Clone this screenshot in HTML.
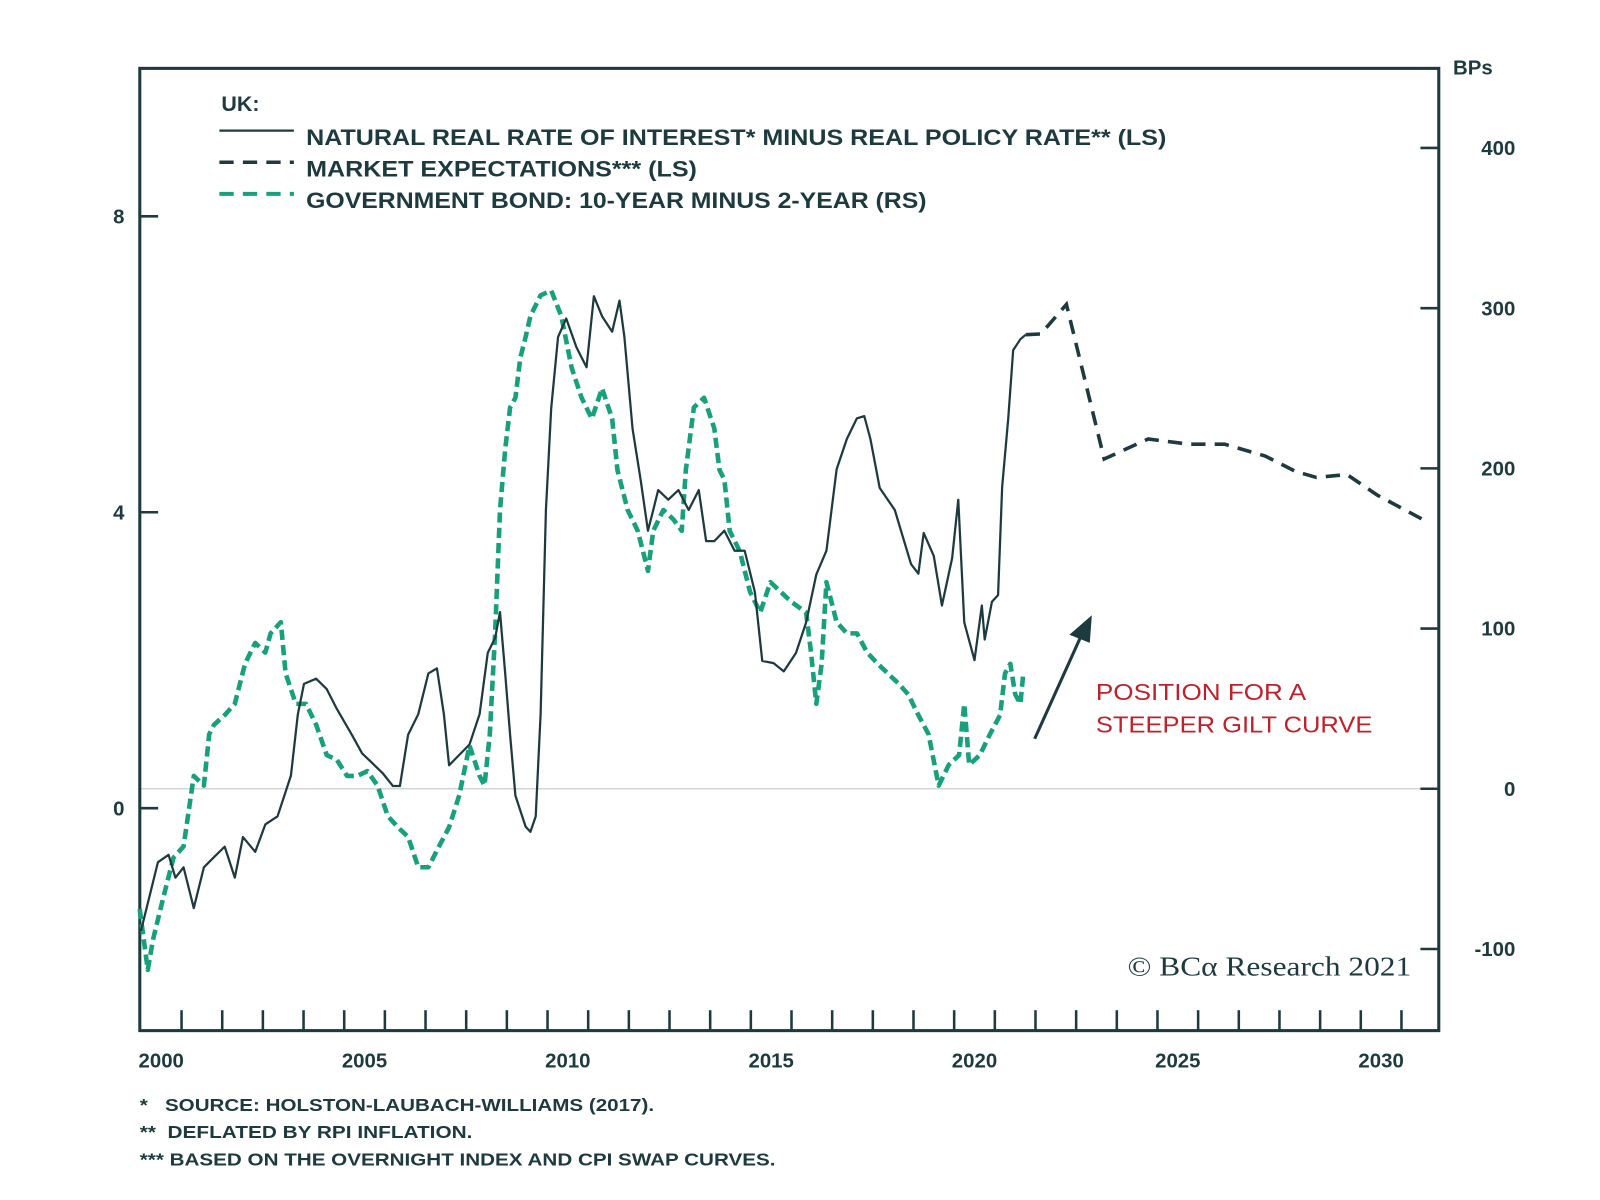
<!DOCTYPE html>
<html><head><meta charset="utf-8"><style>
html,body{margin:0;padding:0;background:#fff;}
svg{display:block;font-family:"Liberation Sans",Arial,sans-serif;}
</style></head><body>
<svg id="chart" width="1600" height="1200" viewBox="0 0 1568 1176" xmlns="http://www.w3.org/2000/svg">
<rect x="0" y="0" width="1568" height="1176" fill="#fff"/>
<g id="plot"></g>
</svg>
<script>
const leftTicks=[0,4,8];
const rightTicks=[-100,0,100,200,300,400];
const yearLabels=[2000,2005,2010,2015,2020,2025,2030];
const gapYears=[1999.5,1999.92,2000.18,2000.35,2000.55,2000.8,2001.05,2001.3,2001.56,2001.81,2002.01,2002.31,2002.56,2002.86,2003.19,2003.36,2003.51,2003.81,2004.07,2004.32,2004.69,2004.94,2005.19,2005.45,2005.7,2005.87,2006.07,2006.32,2006.57,2006.78,2006.95,2007.08,2007.33,2007.58,2007.83,2008.03,2008.21,2008.33,2008.46,2008.58,2008.71,2008.96,2009.08,2009.21,2009.33,2009.46,2009.59,2009.76,2009.96,2010.21,2010.46,2010.64,2010.84,2011.09,2011.27,2011.39,2011.59,2011.79,2011.97,2012.1,2012.22,2012.47,2012.72,2012.97,2013.22,2013.4,2013.6,2013.85,2014.1,2014.35,2014.6,2014.78,2015.06,2015.31,2015.61,2015.86,2016.11,2016.36,2016.61,2016.86,2017.11,2017.29,2017.44,2017.67,2018.04,2018.44,2018.62,2018.75,2019.0,2019.2,2019.45,2019.6,2019.75,2020.0,2020.18,2020.25,2020.43,2020.58,2020.68,2020.83,2020.95,2021.13,2021.26];
const gapValues=[-1.66,-0.73,-0.63,-0.94,-0.8,-1.35,-0.8,-0.66,-0.52,-0.94,-0.39,-0.59,-0.22,-0.11,0.44,1.27,1.68,1.75,1.61,1.34,0.99,0.74,0.61,0.47,0.3,0.3,0.99,1.27,1.82,1.89,1.27,0.58,0.72,0.86,1.27,2.1,2.3,2.65,1.82,0.99,0.17,-0.25,-0.32,-0.11,1.27,4.03,5.41,6.37,6.62,6.23,5.96,6.92,6.65,6.44,6.86,6.37,5.13,4.44,3.75,4.03,4.3,4.17,4.3,4.03,4.3,3.61,3.61,3.75,3.48,3.48,2.92,1.99,1.96,1.85,2.1,2.51,3.16,3.48,4.58,4.99,5.27,5.3,4.99,4.33,4.03,3.3,3.17,3.72,3.41,2.74,3.38,4.17,2.51,2.0,2.74,2.28,2.79,2.88,4.34,5.27,6.19,6.34,6.4];
const mktYears=[2021.26,2021.63,2022.26,2023.19,2024.27,2025.27,2026.15,2027.15,2027.9,2028.41,2029.16,2029.91,2031.17];
const mktValues=[6.4,6.41,6.81,4.72,4.99,4.92,4.92,4.76,4.55,4.47,4.51,4.23,3.86];
const bondYears=[1999.47,1999.67,1999.8,2000.05,2000.3,2000.55,2000.8,2001.05,2001.18,2001.3,2001.56,2001.81,2002.06,2002.31,2002.56,2002.69,2002.94,2003.06,2003.31,2003.56,2003.81,2004.07,2004.32,2004.57,2004.82,2005.07,2005.32,2005.57,2005.82,2006.07,2006.32,2006.57,2006.83,2007.08,2007.33,2007.58,2007.83,2007.95,2008.08,2008.21,2008.33,2008.46,2008.58,2008.71,2008.83,2008.96,2009.08,2009.33,2009.59,2009.84,2010.09,2010.34,2010.59,2010.84,2011.09,2011.22,2011.47,2011.72,2011.97,2012.1,2012.35,2012.6,2012.8,2012.9,2013.1,2013.35,2013.6,2013.73,2013.85,2013.98,2014.23,2014.48,2014.73,2014.98,2015.23,2015.48,2015.86,2015.98,2016.11,2016.24,2016.36,2016.61,2016.86,2017.11,2017.36,2017.62,2017.87,2018.12,2018.37,2018.62,2018.87,2019.12,2019.37,2019.62,2019.75,2019.87,2020.13,2020.38,2020.63,2020.75,2020.88,2021.0,2021.13,2021.2];
const bondValues=[-75,-113,-94,-68,-43,-36,8,2,34,40,46,53,78,91,85,97,104,72,53,53,40,21,18,8,8,11,2,-17,-24,-30,-49,-49,-36,-24,-4,27,8,2,34,97,174,212,238,244,269,282,295,308,311,295,263,244,231,250,231,199,174,161,136,161,174,168,161,199,238,244,225,199,193,161,148,123,110,129,123,117,110,85,53,78,129,104,97,97,85,78,72,66,59,46,34,2,15,21,53,15,21,34,46,72,78,59,53,72];

const NS="http://www.w3.org/2000/svg";
const svg=document.getElementById('plot');
const DARK="#1d3a3f", GREEN="#17a07c";
const L=137,R=1410,T=67,B=1010;
function xS(yr){return 158+39.85*(yr-2000);}
function yL(v){return 792-72.5*v;}
function yR(bp){return 773-1.57*bp;}
function mk(tag,attrs,parent){const e=document.createElementNS(NS,tag);for(const k in attrs)e.setAttribute(k,attrs[k]);(parent||svg).appendChild(e);return e;}

const zl=mk('line',{x1:L,x2:R,y1:yR(0),y2:yR(0),stroke:'#d4d4d4','stroke-width':1.5});



const fr=mk('rect',{x:L,y:T,width:R-L,height:B-T,fill:'none',stroke:DARK,'stroke-width':3});



leftTicks.forEach(v=>{
  const t=mk('line',{x1:L,x2:L+18,y1:yL(v),y2:yL(v),stroke:DARK,'stroke-width':2.5});
  
  
  const lb=mk('text',{x:122,y:yL(v)+7,'text-anchor':'end','font-size':20,'font-weight':'bold',fill:DARK});
  lb.textContent=v;
  
  
});
rightTicks.forEach(v=>{
  const t=mk('line',{x1:R-18,x2:R,y1:yR(v),y2:yR(v),stroke:DARK,'stroke-width':2.5});
  
  
  const lb=mk('text',{x:1485,y:yR(v)+7,'text-anchor':'end','font-size':20,'font-weight':'bold',fill:DARK});
  lb.textContent=v;
  
  
});
for(let yr=2000;yr<=2030;yr++){
  const t=mk('line',{x1:xS(yr+0.5),x2:xS(yr+0.5),y1:B,y2:B-20,stroke:DARK,'stroke-width':2.5});
  
  
}
yearLabels.forEach(yr=>{
  const lb=mk('text',{x:xS(yr),y:1046,'text-anchor':'middle','font-size':20,'font-weight':'bold',fill:DARK});
  lb.textContent=yr;
  
  
});

function path(xs,ys,fy){return xs.map((x,i)=>(i?'L':'M')+xS(x).toFixed(1)+' '+fy(ys[i]).toFixed(1)).join(' ');}
const gb=mk('path',{d:path(bondYears,bondValues,yR),fill:'none',stroke:GREEN,'stroke-width':4.5,'stroke-dasharray':'10 5','stroke-linejoin':'round'});


const gp=mk('path',{d:path(gapYears,gapValues,yL),fill:'none',stroke:DARK,'stroke-width':2.2,'stroke-linejoin':'round'});


const mp=mk('path',{d:path(mktYears,mktValues,yL),fill:'none',stroke:DARK,'stroke-width':3.5,'stroke-dasharray':'14 9'});


</script>
<svg style="position:absolute;left:0;top:0" width="1600" height="1200" viewBox="0 0 1568 1176" xmlns="http://www.w3.org/2000/svg" font-family="Liberation Sans, Arial, sans-serif">
<text x="1424" y="73" font-size="20" font-weight="bold" fill="#1d3a3f">BPs</text>
<g>
<text x="217" y="109" font-size="21" font-weight="bold" fill="#1d3a3f">UK:</text>
<line x1="215" y1="128" x2="288" y2="128" stroke="#1d3a3f" stroke-width="2.2"/>
<text x="300" y="142" font-size="22" font-weight="bold" fill="#1d3a3f" textLength="843" lengthAdjust="spacingAndGlyphs">NATURAL REAL RATE OF INTEREST* MINUS REAL POLICY RATE** (LS)</text>
<line x1="215" y1="159" x2="288" y2="159" stroke="#1d3a3f" stroke-width="3.5" stroke-dasharray="14 9"/>
<text x="300" y="173" font-size="22" font-weight="bold" fill="#1d3a3f" textLength="383" lengthAdjust="spacingAndGlyphs">MARKET EXPECTATIONS*** (LS)</text>
<line x1="215" y1="190" x2="288" y2="190" stroke="#17a07c" stroke-width="4" stroke-dasharray="14 9"/>
<text x="300" y="204" font-size="22" font-weight="bold" fill="#1d3a3f" textLength="608" lengthAdjust="spacingAndGlyphs">GOVERNMENT BOND: 10-YEAR MINUS 2-YEAR (RS)</text>
</g>
<g>
<line x1="1014" y1="724" x2="1060" y2="622" stroke="#1d3a3f" stroke-width="3"/>
<polygon points="1070,603 1048,622 1068,630" fill="#1d3a3f"/>
<text x="1074" y="686" font-size="23" fill="#c0202a" textLength="206" lengthAdjust="spacingAndGlyphs">POSITION FOR A</text>
<text x="1074" y="718" font-size="23" fill="#c0202a" textLength="271" lengthAdjust="spacingAndGlyphs">STEEPER GILT CURVE</text>
</g>
<text x="1105" y="956" font-family="Liberation Serif, serif" font-size="27" fill="#1d3a3f" textLength="278" lengthAdjust="spacingAndGlyphs">© BCα Research 2021</text>
<g font-size="17" font-weight="bold" fill="#1d3a3f">
<text x="137" y="1089" textLength="504" lengthAdjust="spacingAndGlyphs" xml:space="preserve">*   SOURCE: HOLSTON-LAUBACH-WILLIAMS (2017).</text>
<text x="137" y="1115" textLength="326" lengthAdjust="spacingAndGlyphs" xml:space="preserve">**  DEFLATED BY RPI INFLATION.</text>
<text x="137" y="1142" textLength="623" lengthAdjust="spacingAndGlyphs">*** BASED ON THE OVERNIGHT INDEX AND CPI SWAP CURVES.</text>
</g>
</svg>
</body></html>
